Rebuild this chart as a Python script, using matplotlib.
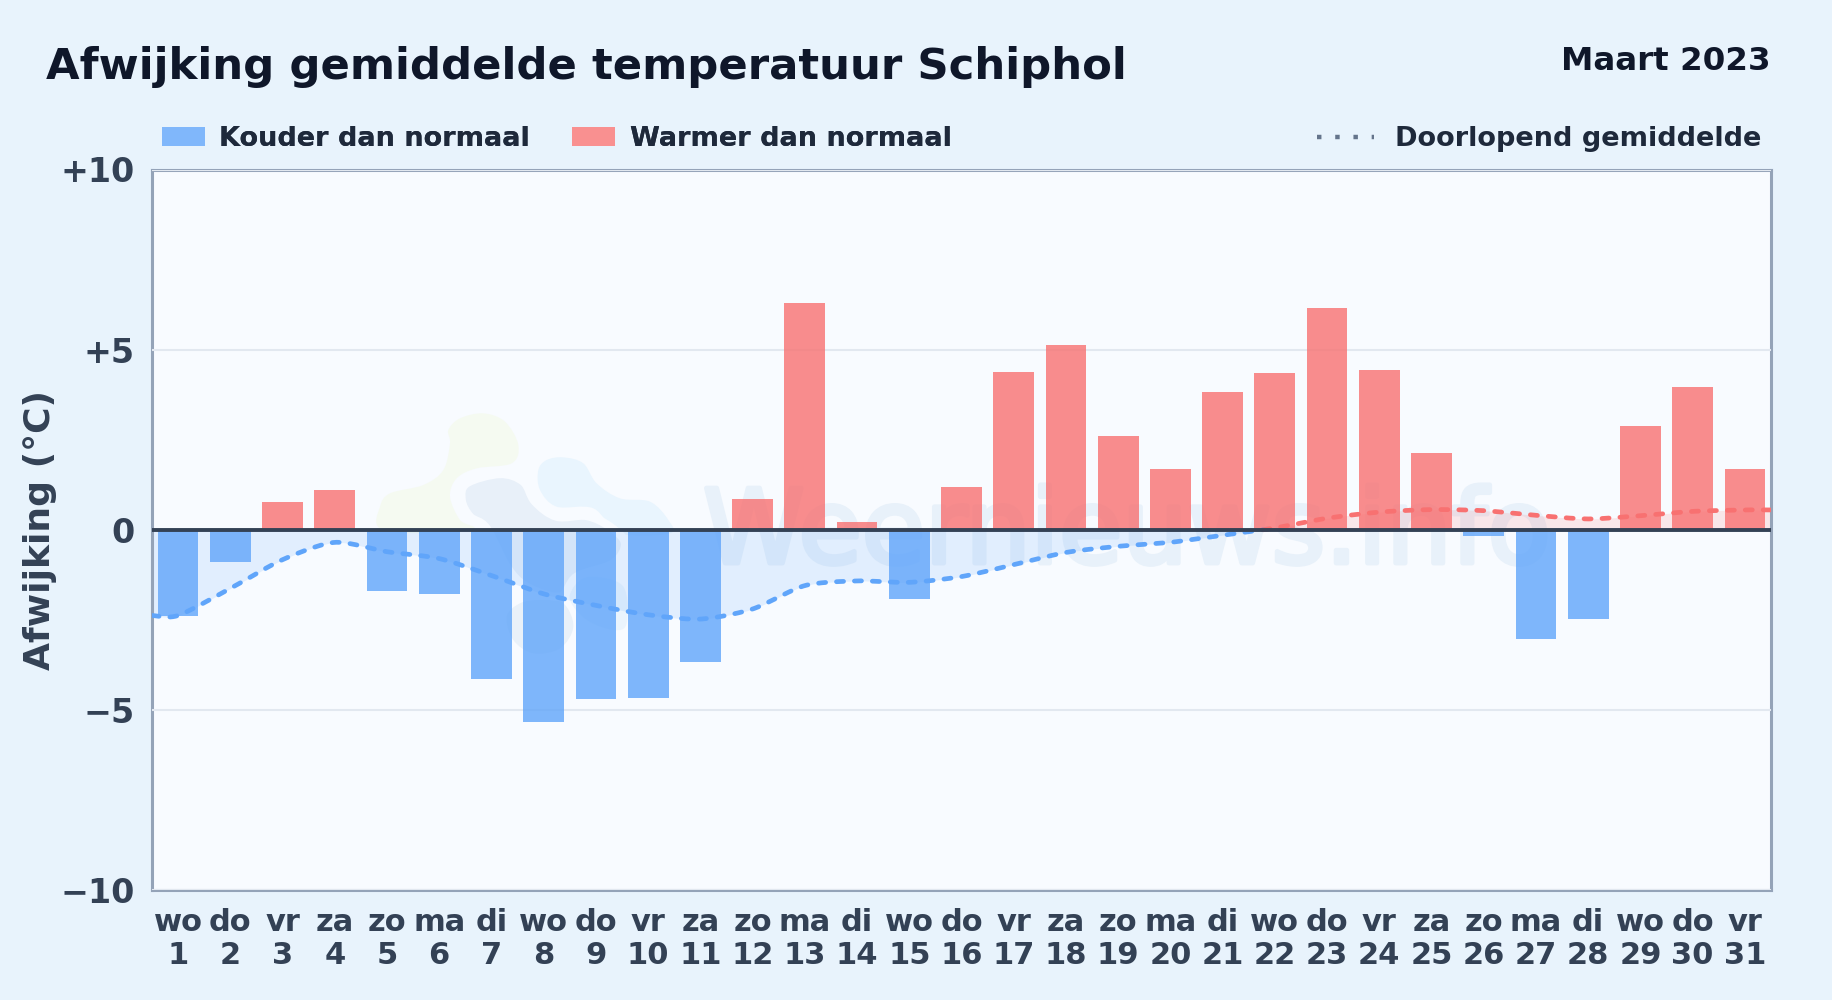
import numpy as np
import matplotlib
matplotlib.use('Agg')
import matplotlib.pyplot as plt
import matplotlib.patheffects as pe
from matplotlib.patches import Patch, PathPatch
from matplotlib.lines import Line2D
from matplotlib.path import Path
from matplotlib.transforms import IdentityTransform

days = list(range(1, 32))
weekdays = ['wo','do','vr','za','zo','ma','di','wo','do','vr','za','zo','ma','di','wo','do','vr','za','zo','ma','di','wo','do','vr','za','zo','ma','di','wo','do','vr']
anomaly = [-2.40,-0.89,0.78,1.11,-1.70,-1.79,-4.15,-5.34,-4.71,-4.67,-3.68,0.86,6.30,0.21,-1.93,1.18,4.39,5.14,2.61,1.70,3.81,4.36,6.16,4.44,2.13,-0.16,-3.02,-2.47,2.88,3.96,1.69]
running_mean = [-2.38,-1.63,-0.83,-0.35,-0.61,-0.80,-1.27,-1.78,-2.10,-2.36,-2.48,-2.20,-1.55,-1.42,-1.46,-1.30,-0.97,-0.63,-0.46,-0.35,-0.15,0.05,0.32,0.49,0.56,0.53,0.40,0.30,0.39,0.51,0.55]

BG = '#e8f3fc'; PANEL = '#f8fbff'; BLUE = '#60a5fa'; RED = '#f87171'
INK = '#0f172a'; DARK = '#1e293b'; TICK = '#334155'

plt.rcParams['font.family'] = 'DejaVu Sans'
W, H = 1832, 1000
fig = plt.figure(figsize=(18.32, 10), dpi=100, facecolor=BG)
ax = fig.add_axes([152/W, 1-890/H, (1771-152)/W, (890-169.5)/H], facecolor=PANEL)
ax.set_xlim(0.5, 31.5); ax.set_ylim(-10, 10)

def closed_smooth(pts):
    pts = np.array(pts, float); n = len(pts)
    verts = [pts[0]]; codes = [Path.MOVETO]
    for i in range(n):
        p0, p1, p2, p3 = pts[i-1], pts[i], pts[(i+1) % n], pts[(i+2) % n]
        verts += [p1+(p2-p0)/6, p2-(p3-p1)/6, p2]; codes += [Path.CURVE4]*3
    return Path(verts, codes)

def blob(pts, color, z=1.0, ec='none', lw=0):
    pts = [(360+x/3, H-(400+y/3)) for x, y in pts]
    ax.add_patch(PathPatch(closed_smooth(pts), fc=color, ec=ec, lw=lw, transform=IdentityTransform(), zorder=z))

# faint logo watermark
blob([(370,40),(435,65),(475,135),(455,190),(350,205),(290,235),(270,290),(300,360),(340,385),(200,400),(60,385),(60,320),(90,280),(190,255),(250,210),(270,130),(265,90),(300,55)], '#f5faf1', 1.0)
blob([(700,530),(790,560),(800,670),(760,690),(680,660),(630,600),(650,550)], '#eaf4fd', 1.0)
blob([(540,600),(610,610),(640,680),(600,745),(520,760),(460,720),(440,650),(480,610)], '#e9f1f9', 1.0)
blob([(610,172),(670,190),(710,250),(780,295),(870,305),(925,360),(930,400),(780,400),(700,325),(590,320),(540,270),(535,210),(560,180)], '#e9f5fe', 1.0)
blob([(420,222),(490,245),(525,305),(590,350),(680,348),(750,380),(795,430),(760,490),(650,530),(600,590),(500,560),(440,500),(380,385),(330,350),(305,300),(320,250)], '#e8f0f9', 1.1, ec=PANEL, lw=6)

ax.text(703, H-563, 'Weernieuws.info', fontsize=74, color='#e8f1fa', va='baseline', ha='left', zorder=1.2,
        transform=IdentityTransform(), family='DejaVu Sans',
        path_effects=[pe.withStroke(linewidth=3.5, foreground='#e8f1fa')])

ax.set_axisbelow(False)
ax.grid(axis='y', color='#e2e8f0', lw=1.5, zorder=1.5)
ax.set_yticks([-10,-5,0,5,10])
ax.set_yticklabels(['\u221210','\u22125','0','+5','+10'], fontsize=24, fontweight='bold', color=TICK)
ax.set_xticks(days)
ax.set_xticklabels([f'{w}\n{d}' for w, d in zip(weekdays, days)], fontsize=22, fontweight='bold', color=TICK, linespacing=1.19)
ax.tick_params(axis='both', length=0)
ax.tick_params(axis='y', pad=12.4)
ax.tick_params(axis='x', pad=13)
ax.set_ylabel('Afwijking (°C)', fontsize=26, fontweight='bold', color=TICK)
ax.yaxis.set_label_coords(-0.0585, 0.5)

vals = np.array(anomaly)
ax.bar(days, vals, width=0.78, color=np.where(vals < 0, BLUE, RED), alpha=0.8, zorder=3, lw=0)

xs = np.array([0.5] + days + [31.5], float)
ys = np.array([running_mean[0]] + running_mean + [running_mean[-1]], float)
K = 0.13
cx, cy = [], []
for i in range(len(xs)-1):
    a, b_, c, d = max(i-1, 0), i, i+1, min(i+2, len(xs)-1)
    for t in np.linspace(0, 1, 24, endpoint=False):
        w = [(1-t)**3, 3*t*(1-t)**2, 3*t*t*(1-t), t**3]
        for store, v in ((cx, xs), (cy, ys)):
            c1 = v[b_]+(v[c]-v[a])*K; c2 = v[c]-(v[d]-v[b_])*K
            store.append(w[0]*v[b_]+w[1]*c1+w[2]*c2+w[3]*v[c])
cx = np.array(cx+[xs[-1]]); cy = np.array(cy+[ys[-1]])
ax.fill_between(cx, cy, 0, where=cy <= 0, color=BLUE, alpha=0.15, lw=0, zorder=2, interpolate=True)
ax.fill_between(cx, cy, 0, where=cy >= 0, color=RED, alpha=0.15, lw=0, zorder=2, interpolate=True)
neg = np.ma.masked_where(cy > 0.02, cy); pos = np.ma.masked_where(cy < 0, cy)
ax.plot(cx, neg, color=BLUE, lw=3.4, ls=(0, (1.5, 2.3)), zorder=4, dash_capstyle='round')
ax.plot(cx, pos, color=RED, lw=3.4, ls=(0, (1.5, 2.3)), zorder=4, dash_capstyle='round')
ax.axhline(0, color=TICK, lw=2.8, zorder=5)

for s in ax.spines.values():
    s.set_color('#94a3b8'); s.set_linewidth(2.2)

fig.text(46/W, 1-67/H, 'Afwijking gemiddelde temperatuur Schiphol', fontsize=31.2, fontweight='bold', color=INK, va='center')
fig.text(1771/W, 1-61/H, 'Maart 2023', fontsize=23.4, fontweight='bold', color=INK, va='center', ha='right')

leg1 = fig.legend(handles=[Patch(color='#80b7fb', lw=0, label='Kouder dan normaal'), Patch(color='#f99090', lw=0, label='Warmer dan normaal')],
    loc='center left', bbox_to_anchor=(162/W, 1-139/H), ncol=2, frameon=False, prop={'size':19.5,'weight':'bold'}, labelcolor=DARK,
    handlelength=1.6, handleheight=0.72, handletextpad=0.52, columnspacing=1.55, borderpad=0, borderaxespad=0)
leg2 = fig.legend(handles=[Line2D([0],[0], color='#64748b', lw=3.2, ls=(0,(1,3.1)), label='Doorlopend gemiddelde')],
    loc='center right', bbox_to_anchor=(1761/W, 1-139/H), frameon=False, prop={'size':19.5,'weight':'bold'}, labelcolor=DARK,
    handlelength=2.07, handletextpad=0.78, borderpad=0, borderaxespad=0)
fig.add_artist(leg1)

fig.savefig('out.png', dpi=100, facecolor=BG)
